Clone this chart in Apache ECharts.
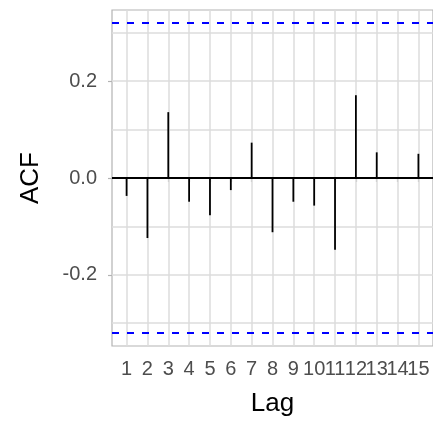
<!DOCTYPE html>
<html>
<head>
<meta charset="utf-8">
<script src="https://cdn.jsdelivr.net/npm/echarts@6/dist/echarts.min.js"></script>
<style>
  html, body { margin: 0; padding: 0; background: #fff; }
  #chart { width: 433px; height: 422px; }
</style>
</head>
<body>
<div id="chart"></div>
<script>
const lags = [1, 2, 3, 4, 5, 6, 7, 8, 9, 10, 11, 12, 13, 14, 15];
const acf = [-0.037, -0.124, 0.136, -0.049, -0.077, -0.025, 0.073, -0.112, -0.049, -0.057, -0.148, 0.171, 0.053, 0.002, 0.050];
const ciBound = 0.316;
const yTicks = [-0.2, 0, 0.2];
const yGrid = [-0.3, -0.2, -0.1, 0.1, 0.2, 0.3];

const font = "'Liberation Sans', Arial, sans-serif";
const gridColor = "#dcdcdc";
const yMin = -0.347;
const yMax = 0.347;

// two-digit lag labels touch each other, so odd and even labels go on two
// stacked x axes to stop echarts from dropping one of them
const oddLags = lags.filter((l) => l % 2 === 1);
const evenLags = lags.filter((l) => l % 2 === 0);

const xLabel = (values) => ({
  customValues: values,
  hideOverlap: false,
  showMinLabel: true,
  showMaxLabel: true,
  margin: 13,
  fontFamily: font,
  fontSize: 20,
  color: "#4d4d4d",
});

const option = {
  animation: false,
  grid: {
    left: 112,
    right: -1,
    top: 10,
    bottom: 72,
    show: true,
    borderColor: "#b3b3b3",
    borderWidth: 1.2,
  },
  xAxis: [
    {
      type: "value",
      min: 0.3,
      max: 15.7,
      name: "Lag",
      nameLocation: "middle",
      nameGap: 45,
      nameTextStyle: { fontFamily: font, fontSize: 26, color: "#000" },
      axisLine: { show: false },
      splitLine: { show: false },
      axisTick: {
        customValues: lags,
        length: 4,
        lineStyle: { color: "#b3b3b3", width: 1.2 },
      },
      axisLabel: xLabel(oddLags),
    },
    {
      type: "value",
      position: "bottom",
      min: 0.3,
      max: 15.7,
      axisLine: { show: false },
      splitLine: { show: false },
      axisTick: { show: false },
      axisLabel: xLabel(evenLags),
    },
  ],
  yAxis: {
    type: "value",
    min: yMin,
    max: yMax,
    name: "ACF",
    nameLocation: "middle",
    nameGap: 68,
    nameTextStyle: { fontFamily: font, fontSize: 26, color: "#000" },
    axisLine: { show: false },
    splitLine: { show: false },
    axisTick: {
      customValues: yTicks,
      length: 4,
      lineStyle: { color: "#b3b3b3", width: 1.2 },
    },
    axisLabel: {
      customValues: yTicks,
      margin: 15,
      fontFamily: font,
      fontSize: 20,
      color: "#4d4d4d",
      formatter: (v) => v.toFixed(1),
    },
  },
  series: [
    {
      type: "custom",
      data: lags.map((l, i) => [l, acf[i]]),
      z: 3,
      renderItem: (params, api) => {
        const top = api.coord([api.value(0), api.value(1)]);
        const base = api.coord([api.value(0), 0]);
        return {
          type: "line",
          shape: { x1: top[0], y1: base[1], x2: top[0], y2: top[1] },
          style: { stroke: "#000", lineWidth: 1.8 },
        };
      },
      markLine: {
        silent: true,
        symbol: "none",
        label: { show: false },
        z: 1,
        lineStyle: { color: gridColor, width: 1.5, type: "solid" },
        data: [
          ...lags.map((l) => [{ coord: [l, yMin] }, { coord: [l, yMax] }]),
          ...yGrid.map((v) => ({ yAxis: v })),
        ],
      },
    },
    {
      type: "line",
      data: [],
      z: 4,
      markLine: {
        silent: true,
        symbol: "none",
        label: { show: false },
        data: [
          { yAxis: 0, lineStyle: { color: "#000", width: 1.8, type: "solid" } },
          { yAxis: ciBound, lineStyle: { color: "#0000ff", width: 1.8, type: [7, 8] } },
          { yAxis: -ciBound, lineStyle: { color: "#0000ff", width: 1.8, type: [7, 8] } },
        ],
      },
    },
  ],
};

echarts.init(document.getElementById("chart")).setOption(option);
</script>
</body>
</html>
